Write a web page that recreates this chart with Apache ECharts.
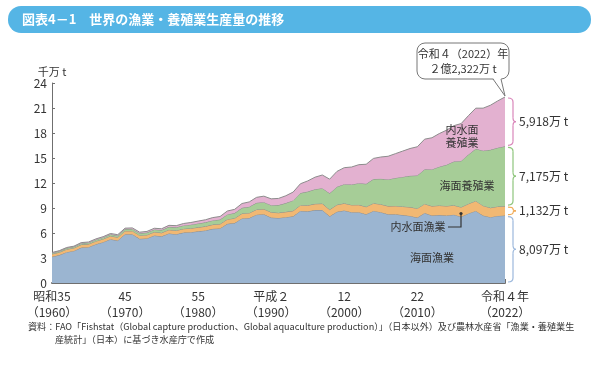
<!DOCTYPE html>
<html><head><meta charset="utf-8">
<script src="https://cdn.jsdelivr.net/npm/echarts@6/dist/echarts.min.js"></script>
<style>html,body{margin:0;padding:0;background:#fff}#c{width:600px;height:365px}</style>
</head><body><div id="c"></div>
<script>
const years = [1960,1961,1962,1963,1964,1965,1966,1967,1968,1969,
1970,1971,1972,1973,1974,1975,1976,1977,1978,1979,
1980,1981,1982,1983,1984,1985,1986,1987,1988,1989,
1990,1991,1992,1993,1994,1995,1996,1997,1998,1999,
2000,2001,2002,2003,2004,2005,2006,2007,2008,2009,
2010,2011,2012,2013,2014,2015,2016,2017,2018,2019,
2020,2021,2022];
// 千万t
const marineCapture = [3.15,3.35,3.70,3.85,4.25,4.30,4.65,4.90,5.25,5.10,
5.85,5.85,5.30,5.35,5.70,5.60,5.95,5.85,6.05,6.10,
6.20,6.30,6.50,6.55,7.10,7.20,7.75,7.80,8.20,8.25,
7.85,7.80,7.90,8.00,8.65,8.60,8.75,8.75,8.00,8.55,
8.70,8.50,8.50,8.25,8.65,8.50,8.25,8.25,8.15,8.05,
7.85,8.40,8.10,8.15,8.10,8.20,7.95,8.35,8.65,8.10,
7.90,8.05,8.097];
const inlandCapture = [0.33,0.34,0.35,0.35,0.36,0.37,0.37,0.38,0.39,0.39,
0.40,0.40,0.41,0.42,0.42,0.43,0.44,0.45,0.46,0.47,
0.48,0.50,0.51,0.53,0.55,0.57,0.59,0.61,0.62,0.63,
0.64,0.63,0.64,0.66,0.69,0.72,0.75,0.78,0.81,0.84,
0.86,0.87,0.88,0.90,0.92,0.95,0.98,1.00,1.03,1.06,
1.10,1.09,1.13,1.15,1.14,1.13,1.15,1.16,1.20,1.18,
1.13,1.13,1.132];
const marineAqua = [0.12,0.13,0.14,0.15,0.16,0.17,0.18,0.19,0.20,0.21,
0.22,0.24,0.26,0.28,0.30,0.32,0.35,0.38,0.40,0.43,
0.46,0.48,0.50,0.53,0.58,0.62,0.68,0.74,0.80,0.82,
0.85,0.92,1.05,1.25,1.45,1.65,1.75,1.85,1.95,2.15,
2.30,2.45,2.60,2.75,2.90,3.05,3.20,3.35,3.55,3.75,
3.95,4.15,4.40,4.65,4.95,5.25,5.55,5.90,6.25,6.60,
6.95,7.05,7.175];
const inlandAqua = [0.06,0.06,0.07,0.07,0.08,0.08,0.09,0.09,0.10,0.10,
0.11,0.12,0.13,0.14,0.15,0.16,0.18,0.20,0.23,0.26,
0.29,0.31,0.34,0.37,0.41,0.45,0.52,0.58,0.66,0.72,
0.76,0.80,0.88,1.00,1.12,1.28,1.45,1.58,1.70,1.85,
1.98,2.10,2.22,2.35,2.48,2.62,2.78,2.92,3.10,3.28,
3.45,3.62,3.80,3.98,4.15,4.30,4.48,4.68,4.88,5.10,
5.35,5.62,5.918];
const seriesNames = ['海面漁業','内水面漁業','海面養殖業','内水面養殖業'];
const tickYears = [1960,1970,1980,1990,2000,2010,2022];
const tickLabels = ['昭和35\n（1960）','45\n（1970）','55\n（1980）','平成２\n（1990）','12\n（2000）','22\n（2010）','令和４年\n（2022）'];
const rightLabels = ['8,097万 t','1,132万 t','7,175万 t','5,918万 t'];
const calloutText = ['令和４（2022）年','２億2,322万 t'];
const titleText = '図表4－1　世界の漁業・養殖業生産量の推移';
const sourceLines = ['資料：FAO「Fishstat（Global capture production、Global aquaculture production）」（日本以外）及び農林水産省「漁業・養殖業生','産統計」（日本）に基づき水産庁で作成'];

const FONT = '"Noto Sans CJK JP", "Noto Sans", sans-serif';
const fills = ['#9bb5d1','#f1b873','#a6cd97','#e3b1d0'];
const braceColors = ['#9cb8dc','#f0ab58','#8ec57c','#d986ba'];
const values = [marineCapture, inlandCapture, marineAqua, inlandAqua];

const chart = echarts.init(document.getElementById('c'), null, {renderer:'canvas'});
const option = {
  animation:false,
  textStyle:{fontFamily:FONT},
  grid:{left:52,right:95,top:83,bottom:82},
  xAxis:{type:'category',data:years.map(String),boundaryGap:false,
    axisLine:{lineStyle:{color:'#6f6f6f',width:2}},
    axisTick:{inside:true,length:4,lineStyle:{color:'#6f6f6f'},
      interval:(i,v)=>tickYears.indexOf(+v)>=0},
    axisLabel:{interval:(i,v)=>tickYears.indexOf(+v)>=0,
      formatter:v=>tickLabels[tickYears.indexOf(+v)],
      color:'#333',fontSize:12,lineHeight:16,margin:5,fontFamily:FONT},
    splitLine:{show:false}},
  yAxis:{type:'value',min:0,max:24,interval:3,
    name:'千万 t',nameGap:6,nameTextStyle:{color:'#333',fontSize:11,fontFamily:FONT,align:'center'},
    axisLine:{show:true,lineStyle:{color:'#6f6f6f',width:1}},
    axisTick:{show:true,inside:true,length:3,lineStyle:{color:'#6f6f6f'}},
    axisLabel:{color:'#333',fontSize:12,margin:5,fontFamily:FONT},
    splitLine:{show:false}},
  series: values.map((d,i)=>({
    name:seriesNames[i],type:'line',stack:'total',data:d,symbol:'none',
    lineStyle:{color:'#8c8c8c',width:1},
    areaStyle:{color:fills[i],opacity:1},
    z:2+i
  }))
};
chart.setOption(option);

function px(x,y){return chart.convertToPixel({xAxisIndex:0,yAxisIndex:0},[String(x),y]);}
const lastIdx = years.length-1;
const cum = [];
let acc=0; for(let i=0;i<4;i++){ acc+=values[i][lastIdx]; cum.push(acc); }
const graphics = [];
graphics.push({type:'rect',shape:{x:8,y:6,width:583,height:27,r:13},style:{fill:'#55b5e5'},z:10});
graphics.push({type:'text',style:{text:titleText,x:22,y:19.5,textVerticalAlign:'middle',fill:'#fff',font:'bold 13px '+FONT},z:11});
const bx = px(2022,0)[0];
let prev = 0;
function curve(x1,y1,x2,y2,cx,cy,color){graphics.push({type:'bezierCurve',shape:{x1:x1,y1:y1,x2:x2,y2:y2,cpx1:cx,cpy1:cy},style:{stroke:color,lineWidth:1.2,fill:null},z:10});}
function seg(x1,y1,x2,y2,color,w){graphics.push({type:'line',shape:{x1:x1,y1:y1,x2:x2,y2:y2},style:{stroke:color,lineWidth:w||1.2},z:10});}
for(let i=0;i<4;i++){
  const y1 = px(2022,cum[i])[1]+1, y2 = px(2022,prev)[1]-1;
  const x0 = bx+3, x1 = bx+8, ym=(y1+y2)/2;
  const r = Math.min(4,(y2-y1)/4);
  const c = braceColors[i];
  curve(x0,y1,x1,y1+r,x1,y1,c);
  seg(x1,y1+r,x1,ym-r,c);
  curve(x1,ym-r,x1+3,ym,x1,ym,c);
  curve(x1+3,ym,x1,ym+r,x1,ym,c);
  seg(x1,ym+r,x1,y2-r,c);
  curve(x1,y2-r,x0,y2,x1,y2,c);
  graphics.push({type:'text',style:{text:rightLabels[i],x:bx+14,y:ym,textVerticalAlign:'middle',fill:'#333',font:'12px '+FONT},z:10});
  prev = cum[i];
}
const topPt = px(2022,cum[3]);
const cx0=417, cy0=43, cw=92, ch=36;
const p1=493, p2=501;
graphics.push({type:'rect',shape:{x:cx0,y:cy0,width:cw,height:ch,r:8},style:{stroke:'#777',lineWidth:1,fill:'#fff'},z:12});
graphics.push({type:'polygon',shape:{points:[[p1,cy0+ch-1],[p2,cy0+ch-1],[topPt[0],topPt[1]-1]]},style:{fill:'#fff',stroke:null},z:13});
graphics.push({type:'line',shape:{x1:p1,y1:cy0+ch,x2:topPt[0],y2:topPt[1]-1},style:{stroke:'#777',lineWidth:1},z:13});
graphics.push({type:'line',shape:{x1:p2,y1:cy0+ch,x2:topPt[0],y2:topPt[1]-1},style:{stroke:'#777',lineWidth:1},z:13});
graphics.push({type:'text',style:{text:calloutText[0],x:cx0+cw/2,y:cy0+11,textAlign:'center',textVerticalAlign:'middle',fill:'#333',font:'11px '+FONT},z:14});
graphics.push({type:'text',style:{text:calloutText[1],x:cx0+cw/2,y:cy0+26,textAlign:'center',textVerticalAlign:'middle',fill:'#333',font:'11px '+FONT},z:14});
function lab(t,x,y){graphics.push({type:'text',style:{text:t,x:x,y:y,textAlign:'center',textVerticalAlign:'middle',fill:'#333',font:'11px '+FONT},z:10});}
lab('内水面',462,130); lab('養殖業',462,143);
lab('海面養殖業',467,186);
lab('内水面漁業',418,227);
lab('海面漁業',432,258);
graphics.push({type:'polyline',shape:{points:[[448,227],[461,227],[461,214]]},style:{stroke:'#333',lineWidth:1.2,fill:null},z:10});
graphics.push({type:'circle',shape:{cx:461,cy:213.5,r:1.6},style:{fill:'#333'},z:10});
graphics.push({type:'text',style:{text:sourceLines[0],x:28,y:327,textVerticalAlign:'middle',fill:'#333',font:'9.1px '+FONT},z:10});
graphics.push({type:'text',style:{text:sourceLines[1],x:55,y:340,textVerticalAlign:'middle',fill:'#333',font:'9.1px '+FONT},z:10});
chart.setOption({graphic:graphics});
</script></body></html>
